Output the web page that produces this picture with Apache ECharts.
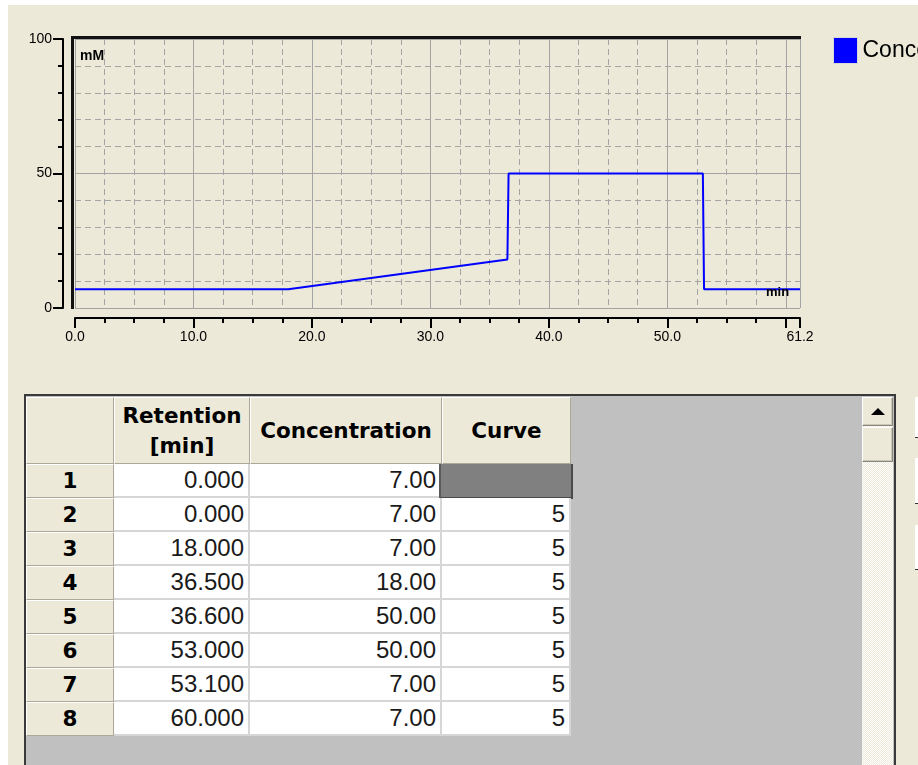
<!DOCTYPE html>
<html>
<head>
<meta charset="utf-8">
<script src="https://cdn.jsdelivr.net/npm/echarts@6/dist/echarts.min.js"></script>
<style>
  html, body { margin: 0; padding: 0; }
  body { width: 918px; height: 765px; overflow: hidden; position: relative; background: #fff; }
  .abs { position: absolute; box-sizing: border-box; overflow: hidden; }
  .panel { left: 8px; top: 5px; width: 910px; height: 760px; background: #ECE9D8; }
  #chart { position: absolute; left: 0; top: 0; width: 918px; height: 362px; }
  .frame { left: 24px; top: 394px; width: 872px; height: 400px; border: 2px solid #3a3a3a; background: #C0C0C0; }
  .hd, .rh {
    background: #ECE9D8;
    border-top: 1px solid #fff; border-left: 1px solid #fff;
    border-right: 1px solid #aca899; border-bottom: 1px solid #aca899;
    font: bold 21.5px "DejaVu Sans", sans-serif; color: #000;
    display: flex; align-items: center; justify-content: center; text-align: center;
    line-height: 30px;
  }
  .dc {
    background: #fff;
    border-right: 2px solid #d6d6d6; border-bottom: 2px solid #d6d6d6;
    font: 24px "Liberation Sans", Arial, sans-serif; color: #1a1a1a;
    text-align: right; padding-right: 4px; line-height: 32px;
  }
  .sel { background: #808080; border-left: 2px solid #5a5a5a; border-right: 2px solid #4a4a4a; border-bottom: 2px solid #4a4a4a; }
  .btn { background: #ECE9D8; border: 1px solid; border-color: #fff #8a887c #8a887c #fff; box-shadow: inset -1px -1px 0 #c9c6b8; }
  .track { background-color: #f4f3ee;
    background-image: repeating-conic-gradient(#fff 0 25%, #ECE9D8 0 50%);
    background-size: 2px 2px; }
  .tri { width: 0; height: 0; border-left: 7px solid transparent; border-right: 7px solid transparent; border-bottom: 7px solid #000; }
  .side { background: #fff; border-bottom: 1px solid #333; }
</style>
</head>
<body>
<div class="abs panel"></div>
<div id="chart"></div>
<div id="table"></div>
<script>
// gradient table
const rowNumbers = [1, 2, 3, 4, 5, 6, 7, 8];
const retention = [0, 0, 18, 36.5, 36.6, 53, 53.1, 60];
const concentration = [7, 7, 7, 18, 50, 50, 7, 7];
const curve = [null, 5, 5, 5, 5, 5, 5, 5];
const columnHeaders = ['Retention\n[min]', 'Concentration', 'Curve'];

// axes
const xMax = 61.2;
const yMax = 100;
const seriesName = 'Concentration';
const yUnit = 'mM';
const xUnit = 'min';

const FONT = "'Liberation Sans', Arial, sans-serif";

// the profile holds its last value to the end of the time axis
const profile = retention.map((t, i) => [t, concentration[i]]);
profile.push([xMax, concentration[concentration.length - 1]]);

const chart = echarts.init(document.getElementById('chart'), null, { renderer: 'canvas' });

const grid = { left: 75, top: 39, width: 725, height: 269 };

const gridGray = '#a4a4a4';

chart.setOption({
  animation: false,
  backgroundColor: 'transparent',
  textStyle: { fontFamily: FONT },
  grid: Object.assign({ show: false }, grid),
  legend: {
    left: 833,
    top: 37,
    padding: 0,
    icon: 'rect',
    itemWidth: 24,
    itemHeight: 26,
    itemStyle: { borderColor: '#d8d8d8', borderWidth: 1 },
    textStyle: { fontSize: 23, color: '#000', fontFamily: FONT },
    data: [seriesName]
  },
  xAxis: [
    {
      type: 'value',
      position: 'bottom',
      min: 0,
      max: xMax,
      interval: 10,
      offset: 10,
      axisLine: { onZero: false, lineStyle: { color: '#000', width: 2 } },
      axisTick: { length: 10, lineStyle: { color: '#000', width: 2 } },
      axisLabel: {
        margin: 12,
        fontSize: 14,
        color: '#000',
        showMinLabel: true,
        showMaxLabel: true,
        formatter: v => (v === 60 ? '' : v.toFixed(1))
      },
      splitLine: { lineStyle: { color: gridGray, width: 1 } },
      z: 3
    },
    {
      type: 'value',
      position: 'bottom',
      min: 0,
      max: xMax,
      interval: 2.5,
      offset: 10,
      axisLine: { show: false, onZero: false },
      axisTick: { length: 5, lineStyle: { color: '#000', width: 2 } },
      axisLabel: { show: false },
      splitLine: { lineStyle: { color: gridGray, width: 1, type: [6, 4] } },
      z: 2
    }
  ],
  yAxis: [
    {
      type: 'value',
      position: 'left',
      min: 0,
      max: yMax,
      interval: 50,
      offset: 12,
      axisLine: { show: true, onZero: false, lineStyle: { color: '#000', width: 2 } },
      axisTick: { show: true, length: 10, lineStyle: { color: '#000', width: 2 } },
      axisLabel: { margin: 11, fontSize: 14, color: '#000' },
      splitLine: { lineStyle: { color: gridGray, width: 1 } },
      z: 3
    },
    {
      type: 'value',
      position: 'left',
      min: 0,
      max: yMax,
      interval: 10,
      offset: 12,
      axisLine: { show: false, onZero: false },
      axisTick: { show: true, length: 5, lineStyle: { color: '#000', width: 2 } },
      axisLabel: { show: false },
      splitLine: { lineStyle: { color: gridGray, width: 1, type: [6, 4] } },
      z: 2
    }
  ],
  graphic: [
    {
      // sunken frame of the plot
      type: 'polyline',
      z: 100,
      shape: { points: [[72.5, 309], [72.5, 37.5], [801, 37.5]] },
      style: { stroke: '#111', lineWidth: 3, fill: null }
    },
    {
      type: 'text',
      left: 80,
      top: 49,
      z: 100,
      style: { text: yUnit, font: "bold 14px 'Liberation Sans', Arial", fill: '#000' }
    },
    {
      type: 'text',
      left: 766,
      top: 286,
      z: 100,
      style: { text: xUnit, font: "bold 13px 'Liberation Sans', Arial", fill: '#000' }
    }
  ],
  series: [
    {
      name: seriesName,
      type: 'line',
      xAxisIndex: 0,
      yAxisIndex: 0,
      showSymbol: false,
      itemStyle: { color: '#0000ff' },
      lineStyle: { color: '#0000ff', width: 2 },
      data: profile,
      z: 10
    }
  ]
});

// grid control under the chart
const table = document.getElementById('table');
const colEdges = [26, 114, 250, 442, 571];
const headTop = 397;
const headH = 67;
const rowTop = 464;
const rowH = 34;

function box(cls, x, y, w, h, html) {
  const d = document.createElement('div');
  d.className = 'abs ' + cls;
  d.style.left = x + 'px';
  d.style.top = y + 'px';
  d.style.width = w + 'px';
  d.style.height = h + 'px';
  if (html !== undefined) d.innerHTML = html;
  table.appendChild(d);
  return d;
}

box('frame', 24, 394, 872, 400);

// header row
box('hd', colEdges[0], headTop, colEdges[1] - colEdges[0], headH, '');
columnHeaders.forEach((h, c) => {
  box('hd', colEdges[c + 1], headTop, colEdges[c + 2] - colEdges[c + 1], headH, h.replace('\n', '<br>'));
});

rowNumbers.forEach((n, i) => {
  const y = rowTop + i * rowH;
  box('rh', colEdges[0], y, colEdges[1] - colEdges[0], rowH, String(n));
  const vals = [
    retention[i].toFixed(3),
    concentration[i].toFixed(2),
    curve[i] === null ? '' : String(curve[i])
  ];
  vals.forEach((v, c) => {
    box('dc', colEdges[c + 1], y, colEdges[c + 2] - colEdges[c + 1], rowH, v);
  });
  if (curve[i] === null) {
    box('sel', colEdges[3] - 3, y, colEdges[4] - colEdges[3] + 5, rowH + 1);
  }
});

// vertical scrollbar
box('track', 862, 397, 31, 370);
const up = box('btn', 862, 397, 31, 29);
up.style.display = 'flex';
up.style.alignItems = 'center';
up.style.justifyContent = 'center';
up.innerHTML = '<div class="tri"></div>';
box('btn', 862, 427, 31, 35);

// edges of neighbouring controls
box('side', 915, 397, 3, 41);
box('side', 915, 458, 3, 46);
box('side', 915, 525, 3, 45);
</script>
</body>
</html>
